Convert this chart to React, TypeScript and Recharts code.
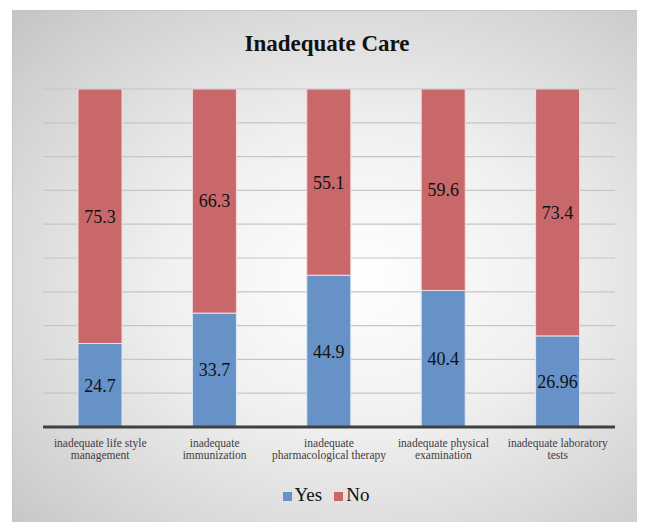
import React from "react";
import { BarChart, Bar, XAxis, YAxis, CartesianGrid, LabelList, Legend } from "recharts";

const categories = [
  "inadequate life style\nmanagement",
  "inadequate\nimmunization",
  "inadequate\npharmacological therapy",
  "inadequate physical\nexamination",
  "inadequate laboratory\ntests",
];
const yesValues = [24.7, 33.7, 44.9, 40.4, 26.96];
const noValues = [75.3, 66.3, 55.1, 59.6, 73.4];
const yTicks = [0, 10, 20, 30, 40, 50, 60, 70, 80, 90, 100];
const seriesOrder = ["Yes", "No"];

const data = categories.map((c, i) => ({ name: c, Yes: yesValues[i], No: noValues[i] }));

const SERIF = "'Liberation Serif', 'Times New Roman', serif";

const CategoryTick = (props: any) => {
  const { x, y, payload } = props;
  const lines = String(payload.value).split("\n");
  return (
    <text x={x} y={y} textAnchor="middle" fontFamily={SERIF} fontSize={11.5} fill="#404040">
      {lines.map((l, i) => (
        <tspan key={i} x={x} dy={12}>
          {l}
        </tspan>
      ))}
    </text>
  );
};

const LegendContent = (props: any) => {
  const payload = [...(props.payload || [])].sort(
    (a: any, b: any) => seriesOrder.indexOf(a.value) - seriesOrder.indexOf(b.value)
  );
  return (
    <div style={{ display: "flex", justifyContent: "center", alignItems: "center", fontFamily: SERIF, fontSize: 19, color: "#111" }}>
      {payload.map((p: any, i: number) => (
        <div key={i} style={{ display: "flex", alignItems: "center", marginRight: i === 0 ? 12 : 0 }}>
          <span style={{ display: "inline-block", width: 9, height: 9, background: p.color, marginRight: 3, marginTop: 2 }} />
          <span>{p.value}</span>
        </div>
      ))}
    </div>
  );
};

export default function App() {
  return (
    <div
      style={{
        position: "relative",
        marginLeft: 4,
        marginTop: 2,
        width: 628,
        height: 514,
        border: "1px solid #c4c4c4",
        boxSizing: "border-box",
        background: "radial-gradient(ellipse at 55% 52%, #ffffff 0%, #f0f0f0 40%, #d0d0d0 85%, #c4c4c4 100%)",
      }}
    >
      <div
        style={{
          position: "absolute",
          top: 20,
          left: 0,
          width: 628,
          textAlign: "center",
          fontFamily: SERIF,
          fontWeight: "bold",
          fontSize: 23,
          color: "#111",
        }}
      >
        Inadequate Care
      </div>
      <BarChart
        width={628}
        height={512}
        data={data}
        margin={{ top: 79, right: 25, left: 31, bottom: 55 }}
        barSize={44}
        style={{ position: "absolute", top: -1, left: -1 }}
      >
        <CartesianGrid vertical={false} stroke="#c6c6c6" strokeWidth={1.2} />
        <YAxis hide domain={[0, 100]} ticks={yTicks} allowDataOverflow />
        <XAxis
          dataKey="name"
          height={40}
          interval={0}
          tickLine={false}
          axisLine={{ stroke: "#404040", strokeWidth: 3 }}
          tick={<CategoryTick />}
        />
        <Legend
          verticalAlign="middle"
          layout="horizontal"
          content={<LegendContent />}
          wrapperStyle={{ top: 474, left: 0, width: 628 }}
        />
        <Bar dataKey="Yes" stackId="a" fill="#6792c7" stroke="#dfe8f3" strokeWidth={1} isAnimationActive={false}>
          <LabelList dataKey="Yes" position="center" fontFamily={SERIF} fontSize={18} fill="#111" />
        </Bar>
        <Bar dataKey="No" stackId="a" fill="#c9686a" stroke="#f1dada" strokeWidth={1} isAnimationActive={false}>
          <LabelList dataKey="No" position="center" fontFamily={SERIF} fontSize={18} fill="#111" />
        </Bar>
      </BarChart>
    </div>
  );
}
